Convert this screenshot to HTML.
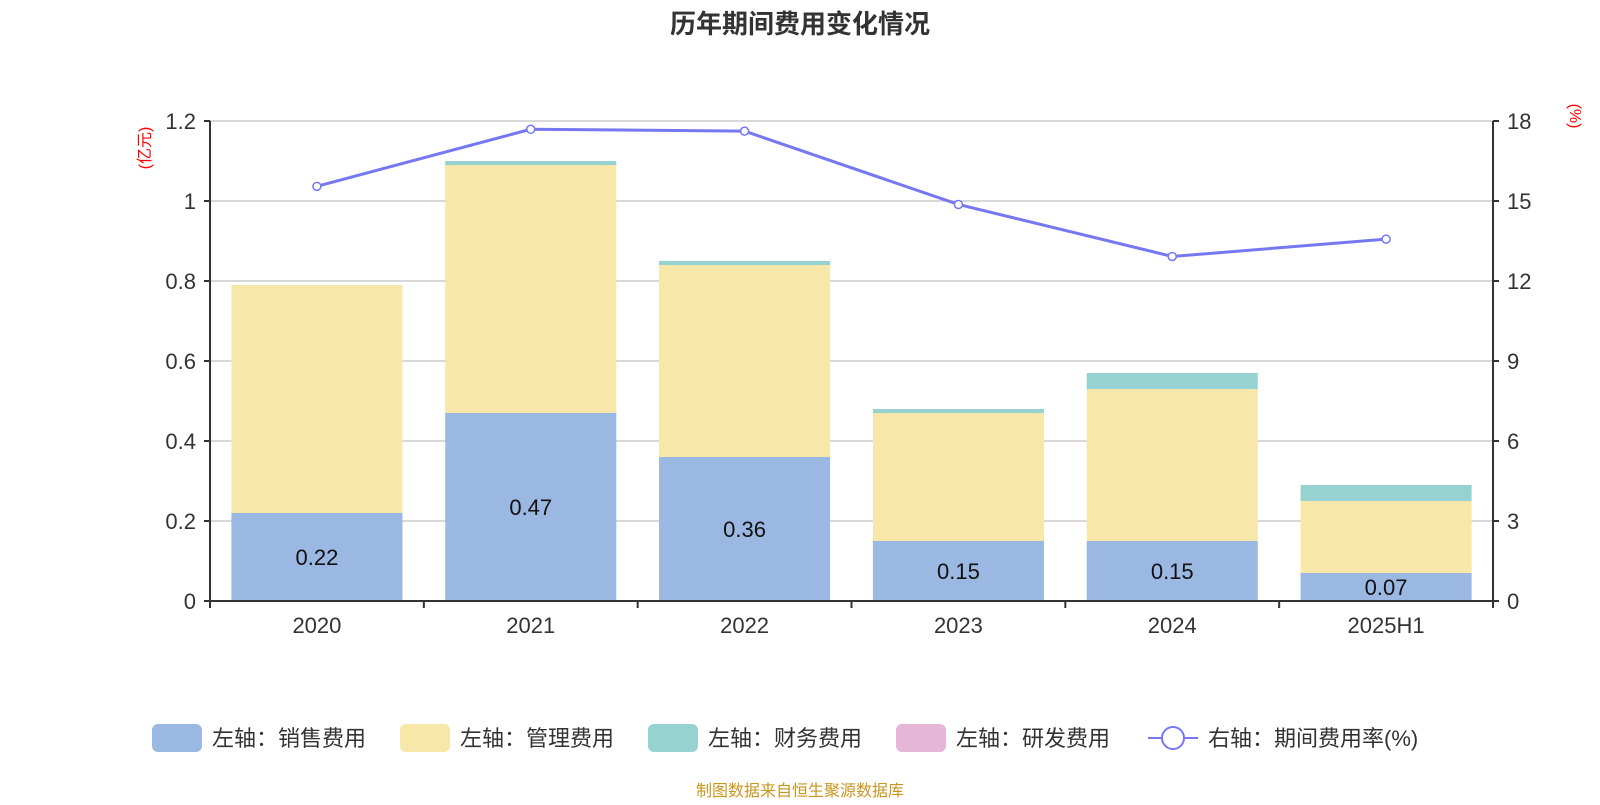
<!DOCTYPE html>
<html><head><meta charset="utf-8"><style>
body{margin:0;background:#fff;}
svg text{font-family:"Liberation Sans","Noto Sans CJK SC",sans-serif;}
</style></head><body>
<svg id="c" width="1600" height="800" xmlns="http://www.w3.org/2000/svg">
<text x="800" y="33" text-anchor="middle" font-size="26" font-weight="bold" fill="#333">历年期间费用变化情况</text>
<text transform="translate(150,148) rotate(-90)" text-anchor="middle" font-size="16" fill="red">(亿元)</text>
<text transform="translate(1570,116) rotate(90)" text-anchor="middle" font-size="16" fill="red">(%)</text>
<g id="g"></g>
<text x="800" y="796" text-anchor="middle" font-size="16" fill="#c8961e">制图数据来自恒生聚源数据库</text>
</svg>
<script>
const categories=["2020","2021","2022","2023","2024","2025H1"];
const sales=[0.22,0.47,0.36,0.15,0.15,0.07];
const mgmt=[0.57,0.62,0.48,0.32,0.38,0.18];
const fin=[0,0.01,0.01,0.01,0.04,0.04];
const rnd=[0,0,0,0,0,0];
const rate=[15.55,17.69,17.62,14.87,12.92,13.57];
const leftTicks=[0,0.2,0.4,0.6,0.8,1,1.2];
const rightTicks=[0,3,6,9,12,15,18];
const X0=210,X1=1493,Y0=601,Y1=121;
const band=(X1-X0)/categories.length;
const yL=v=>Y0-(v/1.2)*(Y0-Y1);
const yR=v=>Y0-(v/18)*(Y0-Y1);
const xC=i=>X0+band*(i+0.5);
const g=document.getElementById('g');
const NS="http://www.w3.org/2000/svg";
function mk(t,a,txt){const e=document.createElementNS(NS,t);for(const k in a)e.setAttribute(k,a[k]);if(txt!=null)e.textContent=txt;g.appendChild(e);return e;}
leftTicks.forEach((v,i)=>{
  const y=yL(v);
  if(v>0){const l=mk('line',{x1:X0,x2:X1,y1:y,y2:y,stroke:'#ccc','stroke-width':1.5});
  
  }
  mk('line',{x1:X0-6,x2:X0,y1:y,y2:y,stroke:'#333','stroke-width':2});
  const t=mk('text',{x:X0-14,y:y+8,'text-anchor':'end','font-size':22,fill:'#333'},String(v));
  
  
  const r=rightTicks[i];
  mk('line',{x1:X1,x2:X1+6,y1:yR(r),y2:yR(r),stroke:'#333','stroke-width':2});
  const t2=mk('text',{x:X1+14,y:yR(r)+8,'font-size':22,fill:'#333'},String(r));
  
  
});
const series=[[sales,'#9bb8e2','sales'],[mgmt,'#f7e7a9','mgmt'],[fin,'#96d2d2','fin'],[rnd,'#e6b6d8','rnd']];
const bw=band*0.8;
categories.forEach((c,i)=>{
  let acc=0;
  series.forEach(([arr,col,nm])=>{
    const v=arr[i];if(v<=0)return;
    const r=mk('rect',{x:xC(i)-bw/2,y:yL(acc+v),width:bw,height:yL(acc)-yL(acc+v),fill:col});
    
    
    acc+=v;
  });
  const lb=mk('text',{x:xC(i),y:Math.min((yL(0)+yL(sales[i]))/2+8,Y0-5),'text-anchor':'middle','font-size':22,fill:'#111'},sales[i].toFixed(2));
  
  
  const xl=mk('text',{x:xC(i),y:Y0+32,'text-anchor':'middle','font-size':22,fill:'#333'},c);
  
  
});
for(let i=0;i<=categories.length;i++){mk('line',{x1:X0+band*i,x2:X0+band*i,y1:Y0,y2:Y0+7,stroke:'#333','stroke-width':2});}
mk('line',{x1:X0,x2:X0,y1:Y1,y2:Y0,stroke:'#333','stroke-width':2});
mk('line',{x1:X1,x2:X1,y1:Y1,y2:Y0+7,stroke:'#333','stroke-width':2});
mk('line',{x1:X0-6,x2:X1+6,y1:Y0,y2:Y0,stroke:'#333','stroke-width':2});
const pl=mk('polyline',{points:rate.map((v,i)=>xC(i)+','+yR(v)).join(' '),fill:'none',stroke:'#7578f0','stroke-width':3});


rate.forEach((v,i)=>{const p=mk('circle',{cx:xC(i),cy:yR(v),r:4,fill:'#fff',stroke:'#7578f0','stroke-width':1.5});

});
const leg=[['#9bb8e2','左轴：销售费用',152],['#f7e7a9','左轴：管理费用',400],['#96d2d2','左轴：财务费用',648],['#e6b6d8','左轴：研发费用',896]];
leg.forEach(([col,txt,x])=>{
  const r=mk('rect',{x:x,y:724,width:50,height:28,rx:6,fill:col});
  
  
  const t=mk('text',{x:x+60,y:746,'font-size':22,fill:'#333'},txt);
  
  
});
mk('line',{x1:1148,x2:1198,y1:738,y2:738,stroke:'#7578f0','stroke-width':2});
const lc=mk('circle',{cx:1173,cy:738,r:11,fill:'#fff',stroke:'#7578f0','stroke-width':2});


const lt=mk('text',{x:1208,y:746,'font-size':22,fill:'#333'},'右轴：期间费用率(%)');


</script>
</body></html>
